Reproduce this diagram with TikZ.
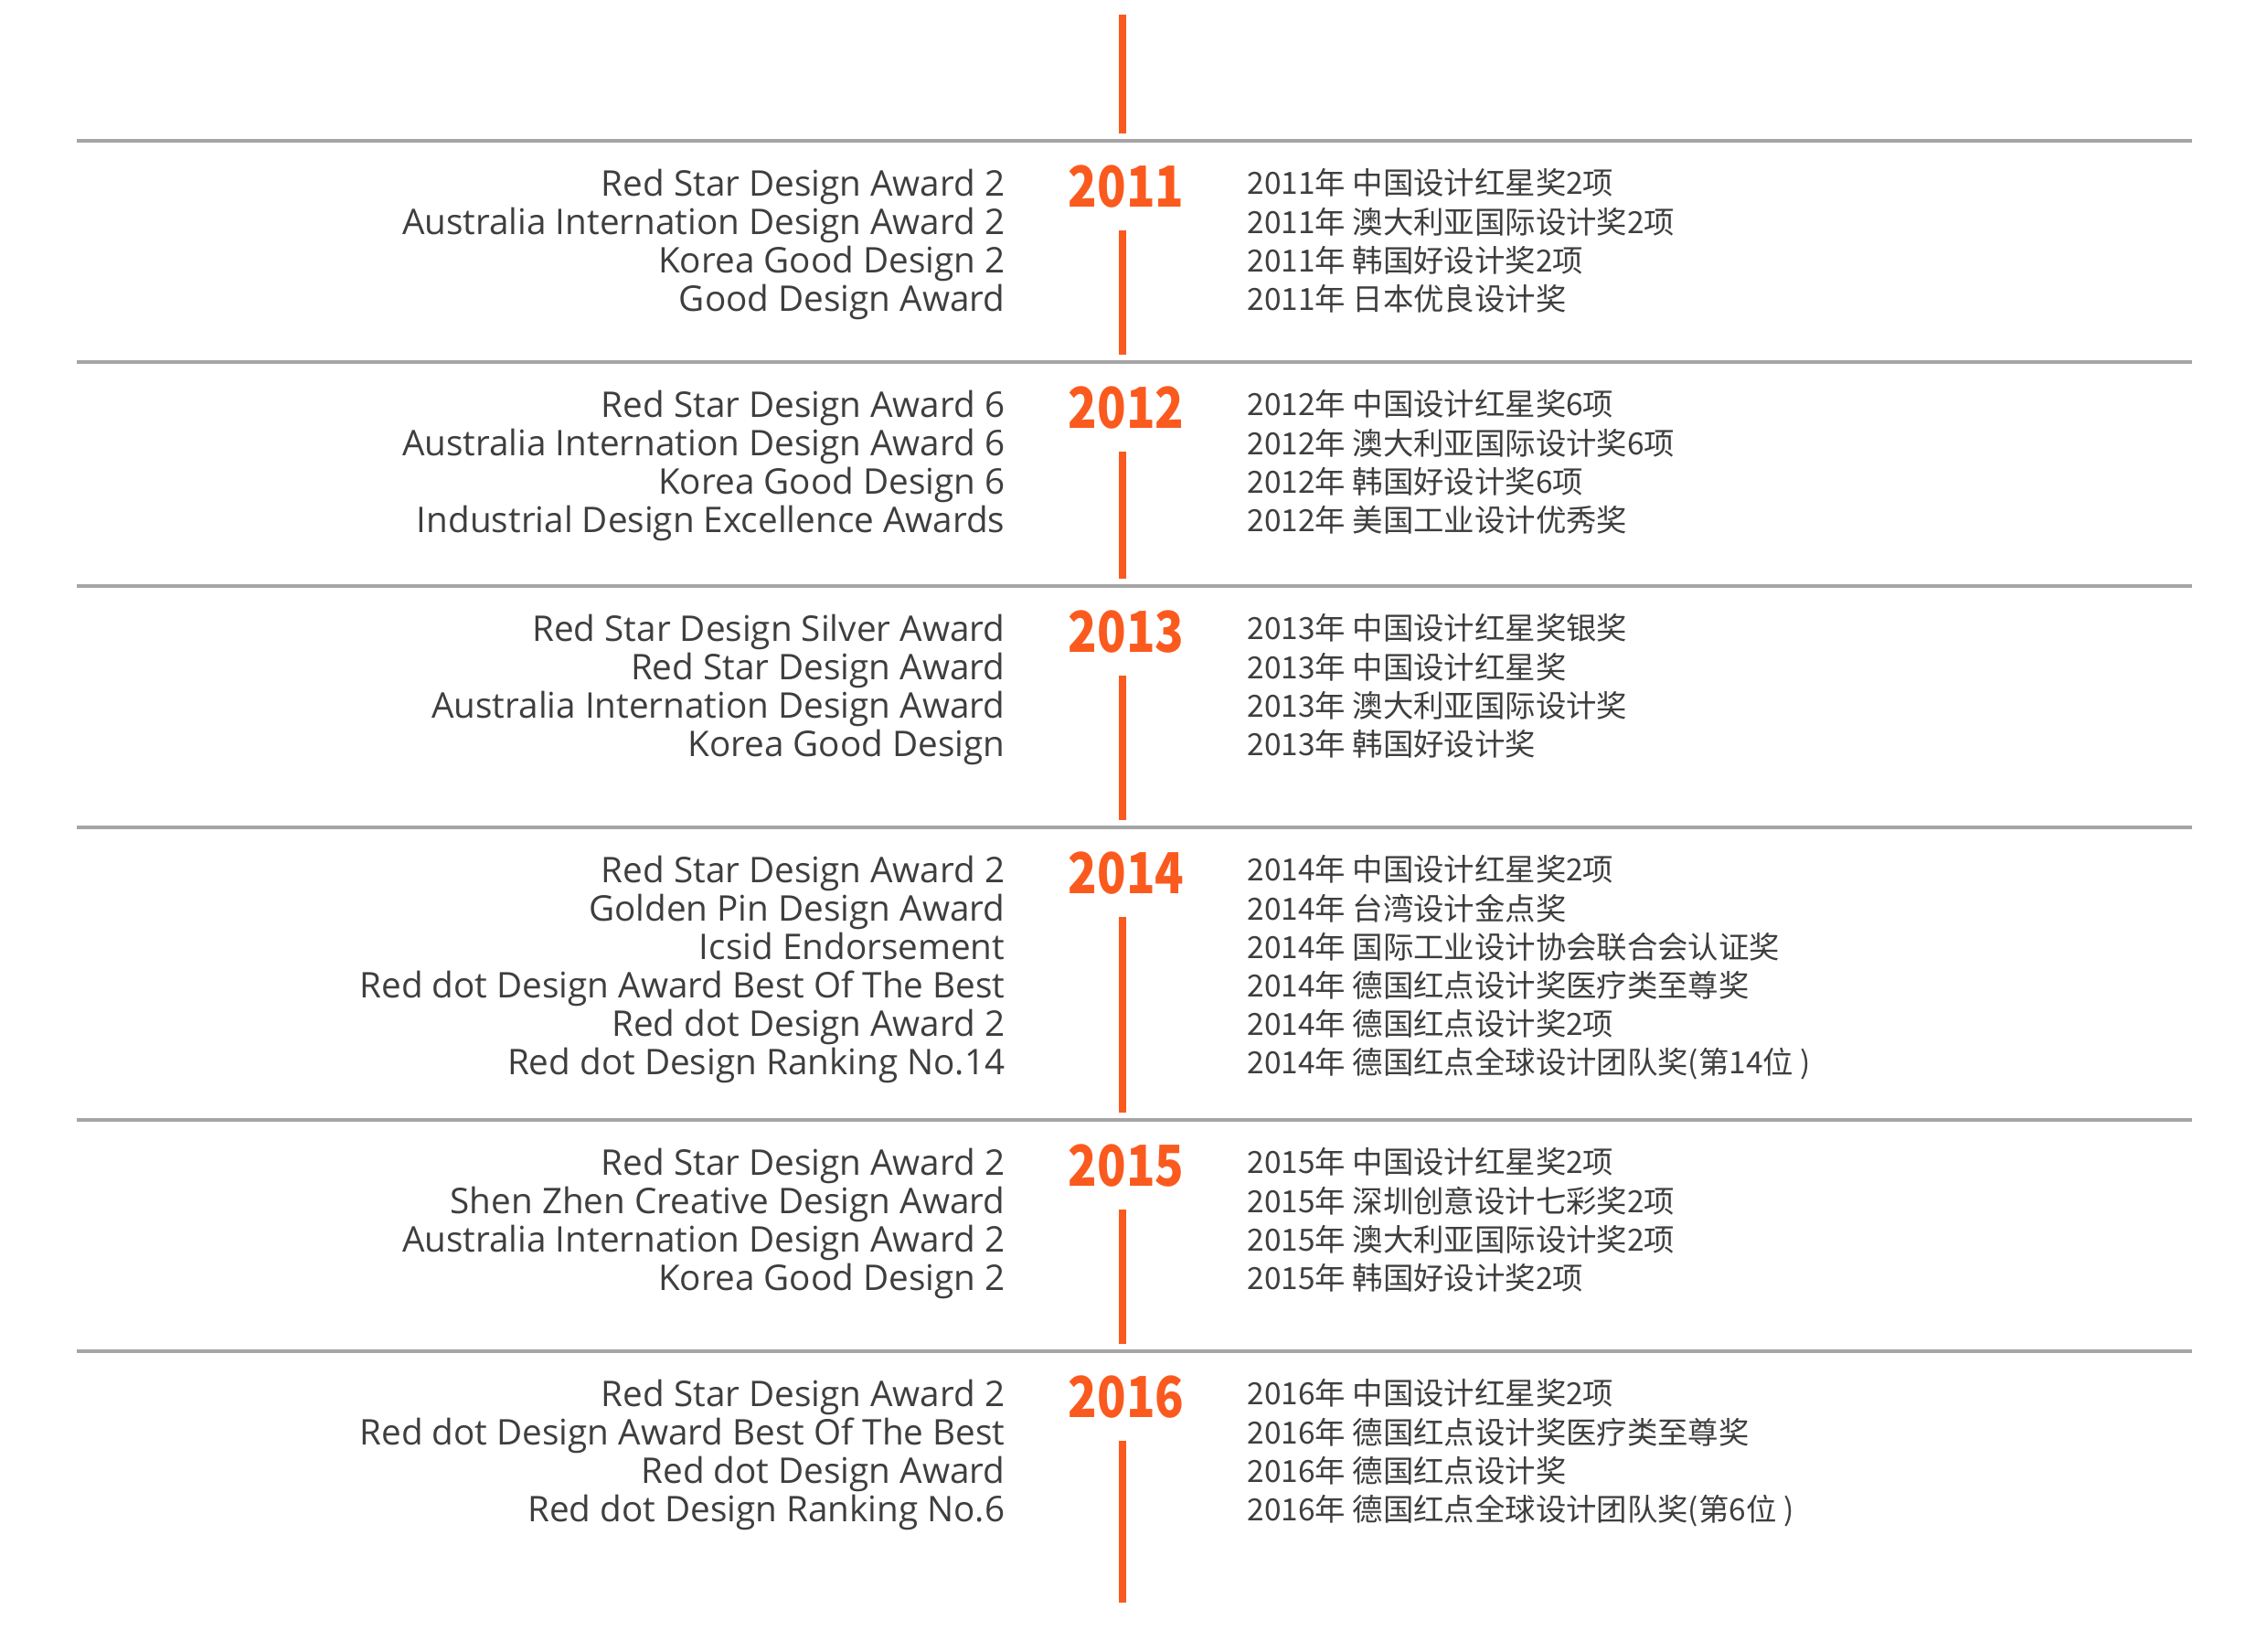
\documentclass[tikz,border=0pt]{standalone}
\usepackage{fontspec}
\setmainfont{Open Sans}
\newfontfamily\cjk{Noto Sans CJK SC}
\usepackage{tikz}
\usetikzlibrary{calc, positioning}
\definecolor{tlorange}{RGB}{250,90,30}
\definecolor{rulegray}{RGB}{165,165,165}
\definecolor{txtgray}{RGB}{62,62,62}
\newcommand{\yrtext}[1]{\scalebox{0.84}[1]{#1}}

\begin{document}
\begin{tikzpicture}[rl/.style={draw=rulegray, line width=1.3pt},
	tl/.style={draw=tlorange, line width=2.1pt},
	yr/.style={text=tlorange, font=\cjk\bfseries\fontsize{17.6}{18}\selectfont, inner sep=0pt},
	en/.style={text=txtgray, font=\fontsize{11}{12}\selectfont, align=right, anchor=north east, inner sep=0pt},
	cn/.style={text=txtgray, font=\cjk\fontsize{9.5}{12}\selectfont, align=left, anchor=north west, inner sep=0pt}]
		\useasboundingbox (0,0) rectangle (24.8,-18.06);
		% rules
		\coordinate (r1l) at (0.84,-1.54); \coordinate (r1r) at (23.98,-1.54); \draw[rl] (r1l) -- (r1r);
		\coordinate (r2l) at (0.84,-3.96); \coordinate (r2r) at (23.98,-3.96); \draw[rl] (r2l) -- (r2r);
		\coordinate (r3l) at (0.84,-6.41); \coordinate (r3r) at (23.98,-6.41); \draw[rl] (r3l) -- (r3r);
		\coordinate (r4l) at (0.84,-9.05); \coordinate (r4r) at (23.98,-9.05); \draw[rl] (r4l) -- (r4r);
		\coordinate (r5l) at (0.84,-12.25); \coordinate (r5r) at (23.98,-12.25); \draw[rl] (r5l) -- (r5r);
		\coordinate (r6l) at (0.84,-14.78); \coordinate (r6r) at (23.98,-14.78); \draw[rl] (r6l) -- (r6r);

		% timeline
		\coordinate (s10) at (12.28,-0.16); \coordinate (e10) at (12.28,-1.46); \draw[tl] (s10) -- (e10);

		\node (y11) [yr] at (12.32,-2.04) {\yrtext{2011}};
		\coordinate (s11) at (12.28,-2.52); \coordinate (e11) at (12.28,-3.88); \draw[tl] (s11) -- (e11);
		\node (l11) [en] at (11.00,-1.84) {Red Star Design Award 2\\Australia Internation Design Award 2\\Korea Good Design 2\\Good Design Award};
		\node (c11) [cn] at (13.64,-1.84) {2011年 中国设计红星奖2项\\2011年 澳大利亚国际设计奖2项\\2011年 韩国好设计奖2项\\2011年 日本优良设计奖};

		\node (y12) [yr] at (12.32,-4.46) {\yrtext{2012}};
		\coordinate (s12) at (12.28,-4.94); \coordinate (e12) at (12.28,-6.33); \draw[tl] (s12) -- (e12);
		\node (l12) [en] at (11.00,-4.26) {Red Star Design Award 6\\Australia Internation Design Award 6\\Korea Good Design 6\\Industrial Design Excellence Awards};
		\node (c12) [cn] at (13.64,-4.26) {2012年 中国设计红星奖6项\\2012年 澳大利亚国际设计奖6项\\2012年 韩国好设计奖6项\\2012年 美国工业设计优秀奖};

		\node (y13) [yr] at (12.32,-6.91) {\yrtext{2013}};
		\coordinate (s13) at (12.28,-7.39); \coordinate (e13) at (12.28,-8.97); \draw[tl] (s13) -- (e13);
		\node (l13) [en] at (11.00,-6.71) {Red Star Design Silver Award\\Red Star Design Award\\Australia Internation Design Award\\Korea Good Design};
		\node (c13) [cn] at (13.64,-6.71) {2013年 中国设计红星奖银奖\\2013年 中国设计红星奖\\2013年 澳大利亚国际设计奖\\2013年 韩国好设计奖};

		\node (y14) [yr] at (12.32,-9.55) {\yrtext{2014}};
		\coordinate (s14) at (12.28,-10.03); \coordinate (e14) at (12.28,-12.17); \draw[tl] (s14) -- (e14);
		\node (l14) [en] at (11.00,-9.35) {Red Star Design Award 2\\Golden Pin Design Award\\Icsid Endorsement\\Red dot Design Award Best Of The Best\\Red dot Design Award 2\\Red dot Design Ranking No.14};
		\node (c14) [cn] at (13.64,-9.35) {2014年 中国设计红星奖2项\\2014年 台湾设计金点奖\\2014年 国际工业设计协会联合会认证奖\\2014年 德国红点设计奖医疗类至尊奖\\2014年 德国红点设计奖2项\\2014年 德国红点全球设计团队奖(第14位 )};

		\node (y15) [yr] at (12.32,-12.75) {\yrtext{2015}};
		\coordinate (s15) at (12.28,-13.23); \coordinate (e15) at (12.28,-14.70); \draw[tl] (s15) -- (e15);
		\node (l15) [en] at (11.00,-12.55) {Red Star Design Award 2\\Shen Zhen Creative Design Award\\Australia Internation Design Award 2\\Korea Good Design 2};
		\node (c15) [cn] at (13.64,-12.55) {2015年 中国设计红星奖2项\\2015年 深圳创意设计七彩奖2项\\2015年 澳大利亚国际设计奖2项\\2015年 韩国好设计奖2项};

		\node (y16) [yr] at (12.32,-15.28) {\yrtext{2016}};
		\coordinate (s16) at (12.28,-15.76); \coordinate (e16) at (12.28,-17.53); \draw[tl] (s16) -- (e16);
		\node (l16) [en] at (11.00,-15.08) {Red Star Design Award 2\\Red dot Design Award Best Of The Best\\Red dot Design Award\\Red dot Design Ranking No.6};
		\node (c16) [cn] at (13.64,-15.08) {2016年 中国设计红星奖2项\\2016年 德国红点设计奖医疗类至尊奖\\2016年 德国红点设计奖\\2016年 德国红点全球设计团队奖(第6位 )};
\end{tikzpicture}
\end{document}
